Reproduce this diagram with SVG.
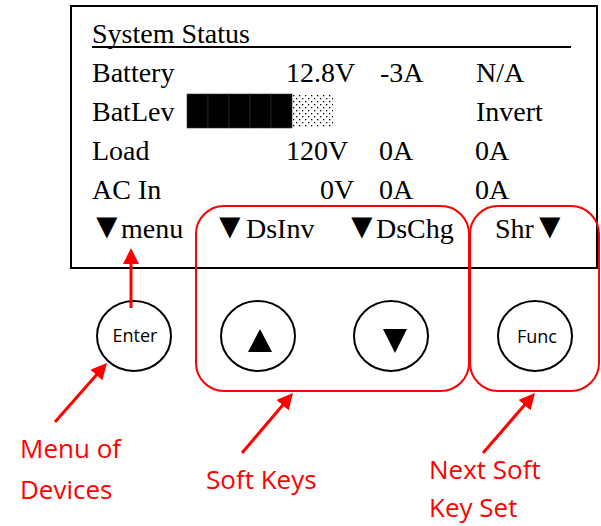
<svg xmlns="http://www.w3.org/2000/svg" width="601" height="526" viewBox="0 0 601 526">
<style>
.lcd{font-family:"Liberation Serif","Times New Roman",serif;font-size:28px;fill:#000}
.tri{font-size:36px}
.btn{fill:#fff;stroke:#000;stroke-width:2}
.btxt{font-family:"Open Sans","Noto Sans",sans-serif;font-size:18px;fill:#000;text-anchor:middle}
.grp{fill:none;stroke:#ff0000;stroke-width:2}
.lbl{font-family:"Open Sans","Noto Sans",sans-serif;font-size:26px;fill:#ff0000}
.arr{fill:none;stroke:#ff0000;stroke-width:3;marker-end:url(#ah)}
.blk{fill:#000;stroke:#333;stroke-width:0.6}
</style>
<defs>
<marker id="ah" viewBox="0 0 16 16" refX="2" refY="8" markerWidth="16" markerHeight="16" markerUnits="userSpaceOnUse" orient="auto">
<path d="M0,0 L16,8 L0,16 z" fill="#ff0000"/>
</marker>
<pattern id="dots" width="6" height="6" patternUnits="userSpaceOnUse" x="292" y="94">
<rect x="1" y="1" width="1.3" height="1.3" fill="#000"/>
<rect x="4" y="4" width="1.3" height="1.3" fill="#000"/>
</pattern>
</defs>
<g id="display">
<rect x="71" y="6" width="526" height="262" fill="#fff" stroke="#000" stroke-width="2"/>
<text class="lcd" x="92" y="43">System Status</text>
<line x1="92" y1="47" x2="571" y2="47" stroke="#000" stroke-width="2"/>
<text class="lcd" x="92" y="82">Battery</text>
<text class="lcd" x="286" y="82">12.8V</text>
<text class="lcd" x="380" y="82">-3A</text>
<text class="lcd" x="476" y="82">N/A</text>
<text class="lcd" x="92" y="121">BatLev</text>
<rect class="blk" x="187" y="94" width="21" height="34"/>
<rect class="blk" x="208" y="94" width="21" height="34"/>
<rect class="blk" x="229" y="94" width="21" height="34"/>
<rect class="blk" x="250" y="94" width="21" height="34"/>
<rect class="blk" x="271" y="94" width="21" height="34"/>
<rect x="292" y="94" width="41" height="34" fill="url(#dots)"/>
<text class="lcd" x="476" y="121">Invert</text>
<text class="lcd" x="92" y="160">Load</text>
<text class="lcd" x="286" y="160">120V</text>
<text class="lcd" x="379" y="160">0A</text>
<text class="lcd" x="475" y="160">0A</text>
<text class="lcd" x="92" y="199">AC In</text>
<text class="lcd" x="320" y="199">0V</text>
<text class="lcd" x="379" y="199">0A</text>
<text class="lcd" x="475" y="199">0A</text>
<text class="lcd" y="238"><tspan class="tri" x="89">▼</tspan><tspan x="121">menu</tspan></text>
<text class="lcd" y="238"><tspan class="tri" x="212">▼</tspan><tspan x="246">DsInv</tspan></text>
<text class="lcd" y="238"><tspan class="tri" x="344">▼</tspan><tspan x="376">DsChg</tspan></text>
<text class="lcd" y="238"><tspan x="495">Shr</tspan><tspan class="tri" x="532">▼</tspan></text>
</g>
<g id="softkeys-group">
<rect class="grp" x="196" y="206" width="273" height="185" rx="28" ry="28"/>
</g>
<g id="nextset-group">
<rect class="grp" x="470" y="206" width="129" height="185" rx="28" ry="28"/>
</g>
<g id="enter">
<ellipse class="btn" cx="134" cy="336" rx="37" ry="35"/>
<text class="btxt" x="135" y="342">Enter</text>
</g>
<g id="up">
<ellipse class="btn" cx="258" cy="336" rx="37" ry="35"/>
<polygon points="248,352 272,352 260,329" fill="#000"/>
</g>
<g id="down">
<ellipse class="btn" cx="391" cy="336" rx="37" ry="35"/>
<polygon points="383,329 407,329 395,353" fill="#000"/>
</g>
<g id="func">
<ellipse class="btn" cx="535" cy="336" rx="37" ry="35"/>
<text class="btxt" x="537" y="343">Func</text>
</g>
<g id="label-menu">
<text class="lbl" x="20" y="458">Menu of</text>
<text class="lbl" x="20" y="499">Devices</text>
</g>
<g id="label-softkeys">
<text class="lbl" x="206" y="489">Soft Keys</text>
</g>
<g id="label-next">
<text class="lbl" x="429" y="479">Next Soft</text>
<text class="lbl" x="429" y="517">Key Set</text>
</g>
<g id="connectors">
<path class="arr" d="M131,308 L131,262"/>
<path class="arr" d="M55,422 L97.7,373.5"/>
<path class="arr" d="M242,453 L283.9,403.7"/>
<path class="arr" d="M483,453 L525.8,403.6"/>
</g>
</svg>
